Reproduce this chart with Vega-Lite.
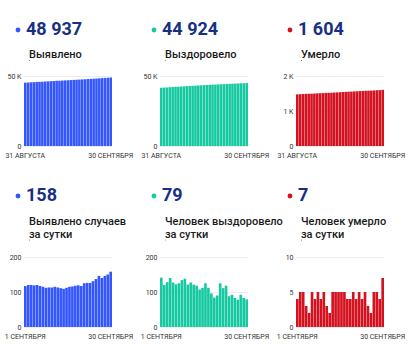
{
  "$schema": "https://vega.github.io/schema/vega-lite/v6.json",
  "padding": {"left": 4, "top": 21, "right": 5, "bottom": 5},
  "background": "white",
  "datasets": {
    "cum": [
      {"day": "31 АВГУСТА", "cases": 45241, "recovered": 41587, "deaths": 1475},
      {"day": "1 СЕНТЯБРЯ", "cases": 45358, "recovered": 41728, "deaths": 1479},
      {"day": "2 СЕНТЯБРЯ", "cases": 45478, "recovered": 41848, "deaths": 1484},
      {"day": "3 СЕНТЯБРЯ", "cases": 45598, "recovered": 41976, "deaths": 1489},
      {"day": "4 СЕНТЯБРЯ", "cases": 45717, "recovered": 42116, "deaths": 1492},
      {"day": "5 СЕНТЯБРЯ", "cases": 45837, "recovered": 42243, "deaths": 1494},
      {"day": "6 СЕНТЯБРЯ", "cases": 45954, "recovered": 42365, "deaths": 1499},
      {"day": "7 СЕНТЯБРЯ", "cases": 46069, "recovered": 42490, "deaths": 1503},
      {"day": "8 СЕНТЯБРЯ", "cases": 46181, "recovered": 42624, "deaths": 1508},
      {"day": "9 СЕНТЯБРЯ", "cases": 46294, "recovered": 42762, "deaths": 1512},
      {"day": "10 СЕНТЯБРЯ", "cases": 46407, "recovered": 42883, "deaths": 1517},
      {"day": "11 СЕНТЯБРЯ", "cases": 46522, "recovered": 43010, "deaths": 1520},
      {"day": "12 СЕНТЯБРЯ", "cases": 46635, "recovered": 43131, "deaths": 1522},
      {"day": "13 СЕНТЯБРЯ", "cases": 46746, "recovered": 43249, "deaths": 1527},
      {"day": "14 СЕНТЯБРЯ", "cases": 46855, "recovered": 43356, "deaths": 1532},
      {"day": "15 СЕНТЯБРЯ", "cases": 46967, "recovered": 43468, "deaths": 1537},
      {"day": "16 СЕНТЯБРЯ", "cases": 47082, "recovered": 43593, "deaths": 1542},
      {"day": "17 СЕНТЯБРЯ", "cases": 47198, "recovered": 43705, "deaths": 1547},
      {"day": "18 СЕНТЯБРЯ", "cases": 47316, "recovered": 43801, "deaths": 1551},
      {"day": "19 СЕНТЯБРЯ", "cases": 47435, "recovered": 43885, "deaths": 1555},
      {"day": "20 СЕНТЯБРЯ", "cases": 47552, "recovered": 43975, "deaths": 1560},
      {"day": "21 СЕНТЯБРЯ", "cases": 47677, "recovered": 44100, "deaths": 1564},
      {"day": "22 СЕНТЯБРЯ", "cases": 47803, "recovered": 44211, "deaths": 1569},
      {"day": "23 СЕНТЯБРЯ", "cases": 47929, "recovered": 44329, "deaths": 1573},
      {"day": "24 СЕНТЯБРЯ", "cases": 48060, "recovered": 44417, "deaths": 1578},
      {"day": "25 СЕНТЯБРЯ", "cases": 48197, "recovered": 44509, "deaths": 1581},
      {"day": "26 СЕНТЯБРЯ", "cases": 48343, "recovered": 44592, "deaths": 1583},
      {"day": "27 СЕНТЯБРЯ", "cases": 48483, "recovered": 44670, "deaths": 1588},
      {"day": "28 СЕНТЯБРЯ", "cases": 48629, "recovered": 44762, "deaths": 1593},
      {"day": "29 СЕНТЯБРЯ", "cases": 48779, "recovered": 44845, "deaths": 1597},
      {"day": "30 СЕНТЯБРЯ", "cases": 48937, "recovered": 44924, "deaths": 1604}
    ],
    "daily": [
      {"day": "1 СЕНТЯБРЯ", "cases": 117, "recovered": 141, "deaths": 4},
      {"day": "2 СЕНТЯБРЯ", "cases": 120, "recovered": 120, "deaths": 5},
      {"day": "3 СЕНТЯБРЯ", "cases": 120, "recovered": 128, "deaths": 5},
      {"day": "4 СЕНТЯБРЯ", "cases": 119, "recovered": 140, "deaths": 3},
      {"day": "5 СЕНТЯБРЯ", "cases": 120, "recovered": 127, "deaths": 2},
      {"day": "6 СЕНТЯБРЯ", "cases": 117, "recovered": 122, "deaths": 5},
      {"day": "7 СЕНТЯБРЯ", "cases": 115, "recovered": 125, "deaths": 4},
      {"day": "8 СЕНТЯБРЯ", "cases": 112, "recovered": 134, "deaths": 5},
      {"day": "9 СЕНТЯБРЯ", "cases": 113, "recovered": 138, "deaths": 4},
      {"day": "10 СЕНТЯБРЯ", "cases": 113, "recovered": 121, "deaths": 5},
      {"day": "11 СЕНТЯБРЯ", "cases": 115, "recovered": 127, "deaths": 3},
      {"day": "12 СЕНТЯБРЯ", "cases": 113, "recovered": 121, "deaths": 2},
      {"day": "13 СЕНТЯБРЯ", "cases": 111, "recovered": 118, "deaths": 5},
      {"day": "14 СЕНТЯБРЯ", "cases": 109, "recovered": 107, "deaths": 5},
      {"day": "15 СЕНТЯБРЯ", "cases": 112, "recovered": 112, "deaths": 5},
      {"day": "16 СЕНТЯБРЯ", "cases": 115, "recovered": 125, "deaths": 5},
      {"day": "17 СЕНТЯБРЯ", "cases": 116, "recovered": 112, "deaths": 5},
      {"day": "18 СЕНТЯБРЯ", "cases": 118, "recovered": 96, "deaths": 4},
      {"day": "19 СЕНТЯБРЯ", "cases": 119, "recovered": 84, "deaths": 4},
      {"day": "20 СЕНТЯБРЯ", "cases": 117, "recovered": 90, "deaths": 5},
      {"day": "21 СЕНТЯБРЯ", "cases": 125, "recovered": 125, "deaths": 4},
      {"day": "22 СЕНТЯБРЯ", "cases": 126, "recovered": 111, "deaths": 5},
      {"day": "23 СЕНТЯБРЯ", "cases": 126, "recovered": 118, "deaths": 4},
      {"day": "24 СЕНТЯБРЯ", "cases": 131, "recovered": 88, "deaths": 5},
      {"day": "25 СЕНТЯБРЯ", "cases": 137, "recovered": 92, "deaths": 3},
      {"day": "26 СЕНТЯБРЯ", "cases": 146, "recovered": 83, "deaths": 2},
      {"day": "27 СЕНТЯБРЯ", "cases": 140, "recovered": 78, "deaths": 5},
      {"day": "28 СЕНТЯБРЯ", "cases": 146, "recovered": 92, "deaths": 5},
      {"day": "29 СЕНТЯБРЯ", "cases": 150, "recovered": 83, "deaths": 4},
      {"day": "30 СЕНТЯБРЯ", "cases": 158, "recovered": 79, "deaths": 7}
    ]
  },
  "columns": 3,
  "bounds": "flush",
  "spacing": {"row": 111, "column": 48},
  "resolve": {
    "scale": {"x": "independent", "y": "independent", "color": "independent", "opacity": "independent"},
    "axis": {"x": "independent", "y": "independent"},
    "legend": {"color": "independent", "opacity": "independent"}
  },
  "concat": [
    {
      "data": {"name": "cum"},
      "width": 88, "height": 70,
      "mark": {"type": "bar"},
      "encoding": {
        "x": {"field": "day", "type": "ordinal", "sort": null, "axis": {"values": ["31 АВГУСТА", "30 СЕНТЯБРЯ"]}},
        "y": {"field": "cases", "type": "quantitative", "scale": {"domain": [0, 50000]}, "axis": {"values": [0, 50000]}},
        "color": {"datum": "48 937", "scale": {"range": ["#3356ff"]}, "legend": {"legendX": -15, "legendY": -55}},
        "opacity": {"datum": "a", "scale": {"range": [1]}, "legend": {"title": "Выявлено", "legendX": 5, "legendY": -27, "symbolOpacity": 0, "symbolSize": 1, "labelExpr": "''", "labelFontSize": 1}}
      }
    },
    {
      "data": {"name": "cum"},
      "width": 88, "height": 70,
      "mark": {"type": "bar"},
      "encoding": {
        "x": {"field": "day", "type": "ordinal", "sort": null, "axis": {"values": ["31 АВГУСТА", "30 СЕНТЯБРЯ"]}},
        "y": {"field": "recovered", "type": "quantitative", "scale": {"domain": [0, 50000]}, "axis": {"values": [0, 50000]}},
        "color": {"datum": "44 924", "scale": {"range": ["#16c9a1"]}, "legend": {"legendX": -15, "legendY": -55}},
        "opacity": {"datum": "a", "scale": {"range": [1]}, "legend": {"title": "Выздоровело", "legendX": 5, "legendY": -27, "symbolOpacity": 0, "symbolSize": 1, "labelExpr": "''", "labelFontSize": 1}}
      }
    },
    {
      "data": {"name": "cum"},
      "width": 88, "height": 70,
      "mark": {"type": "bar"},
      "encoding": {
        "x": {"field": "day", "type": "ordinal", "sort": null, "axis": {"values": ["31 АВГУСТА", "30 СЕНТЯБРЯ"]}},
        "y": {"field": "deaths", "type": "quantitative", "scale": {"domain": [0, 2000]}, "axis": {"values": [0, 1000, 2000]}},
        "color": {"datum": "1 604", "scale": {"range": ["#d4111f"]}, "legend": {"legendX": -15, "legendY": -55}},
        "opacity": {"datum": "a", "scale": {"range": [1]}, "legend": {"title": "Умерло", "legendX": 5, "legendY": -27, "symbolOpacity": 0, "symbolSize": 1, "labelExpr": "''", "labelFontSize": 1}}
      }
    },
    {
      "data": {"name": "daily"},
      "width": 88, "height": 70,
      "mark": {"type": "bar"},
      "encoding": {
        "x": {"field": "day", "type": "ordinal", "sort": null, "axis": {"values": ["1 СЕНТЯБРЯ", "30 СЕНТЯБРЯ"]}},
        "y": {"field": "cases", "type": "quantitative", "scale": {"domain": [0, 200]}, "axis": {"values": [0, 100, 200]}},
        "color": {"datum": "158", "scale": {"range": ["#3356ff"]}, "legend": {"legendX": -15, "legendY": -70}},
        "opacity": {"datum": "a", "scale": {"range": [1]}, "legend": {"title": ["Выявлено случаев", "за сутки"], "legendX": 5, "legendY": -41, "symbolOpacity": 0, "symbolSize": 1, "labelExpr": "''", "labelFontSize": 1}}
      }
    },
    {
      "data": {"name": "daily"},
      "width": 88, "height": 70,
      "mark": {"type": "bar"},
      "encoding": {
        "x": {"field": "day", "type": "ordinal", "sort": null, "axis": {"values": ["1 СЕНТЯБРЯ", "30 СЕНТЯБРЯ"]}},
        "y": {"field": "recovered", "type": "quantitative", "scale": {"domain": [0, 200]}, "axis": {"values": [0, 100, 200]}},
        "color": {"datum": "79", "scale": {"range": ["#16c9a1"]}, "legend": {"legendX": -15, "legendY": -70}},
        "opacity": {"datum": "a", "scale": {"range": [1]}, "legend": {"title": ["Человек выздоровело", "за сутки"], "legendX": 5, "legendY": -41, "symbolOpacity": 0, "symbolSize": 1, "labelExpr": "''", "labelFontSize": 1}}
      }
    },
    {
      "data": {"name": "daily"},
      "width": 88, "height": 70,
      "mark": {"type": "bar"},
      "encoding": {
        "x": {"field": "day", "type": "ordinal", "sort": null, "axis": {"values": ["1 СЕНТЯБРЯ", "30 СЕНТЯБРЯ"]}},
        "y": {"field": "deaths", "type": "quantitative", "scale": {"domain": [0, 10]}, "axis": {"values": [0, 5, 10]}},
        "color": {"datum": "7", "scale": {"range": ["#d4111f"]}, "legend": {"legendX": -15, "legendY": -70}},
        "opacity": {"datum": "a", "scale": {"range": [1]}, "legend": {"title": ["Человек умерло", "за сутки"], "legendX": 5, "legendY": -41, "symbolOpacity": 0, "symbolSize": 1, "labelExpr": "''", "labelFontSize": 1}}
      }
    }
  ],
  "config": {
    "font": "Roboto",
    "view": {"stroke": null},
    "scale": {"bandPaddingInner": 0.1, "bandPaddingOuter": 0},
    "axis": {"title": null, "ticks": false, "domain": false, "labelFontSize": 7, "labelColor": "#333333", "labelFont": "Roboto"},
    "axisX": {"labelAngle": 0, "labelPadding": 5, "grid": false},
    "axisY": {"grid": true, "gridColor": "#ececec", "labelPadding": 3, "labelExpr": "datum.value >= 1000 ? format(datum.value / 1000, 'd') + ' K' : datum.label"},
    "legend": {"orient": "none", "title": null, "symbolType": "circle", "symbolSize": 24, "symbolStrokeWidth": 0, "labelFontSize": 18, "labelFontWeight": "bold", "labelColor": "#173085", "labelOffset": -1, "padding": 0, "labelFont": "Roboto", "labelLimit": 200, "titleFont": "Roboto", "titleFontSize": 11, "titleFontWeight": 500, "titleColor": "#1a1a1a", "titleLineHeight": 12.5, "titleLimit": 200, "titlePadding": 0}
  }
}
